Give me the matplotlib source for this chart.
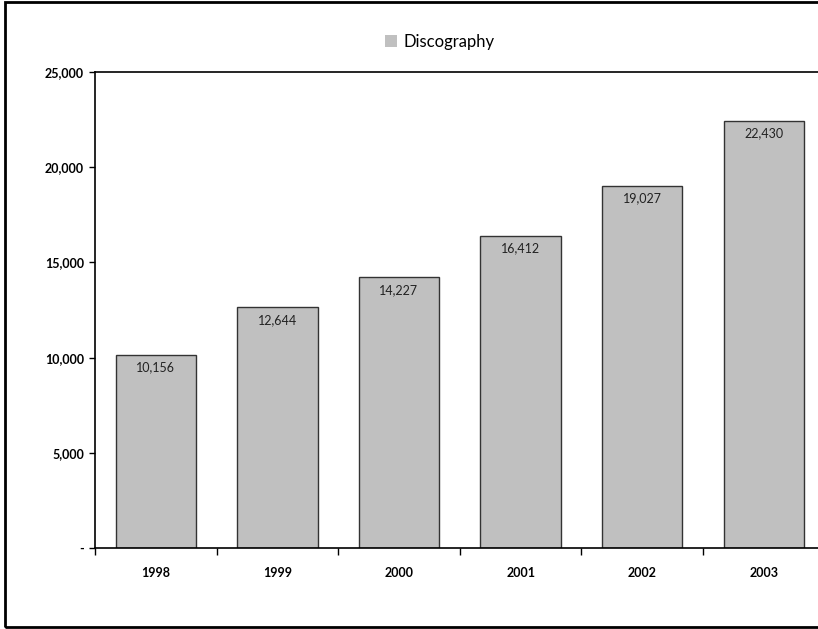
import numpy as np
import matplotlib.pyplot as plt
from matplotlib.patches import Rectangle, Patch

plt.rcParams['font.family'] = ['Lato', 'DejaVu Sans']

years = ["1998", "1999", "2000", "2001", "2002", "2003"]
discography = [10156, 12644, 14227, 16412, 19027, 22430]
ytick_vals = [0, 5000, 10000, 15000, 20000, 25000]
ytick_labels = ["-", "5,000", "10,000", "15,000", "20,000", "25,000"]

fig = plt.figure(figsize=(8.18, 6.29), dpi=100)
ax = fig.add_axes([95 / 818, 81 / 629, 6 * 121.6 / 818, 476 / 629])

x = np.arange(len(years))
ax.bar(x, discography, width=0.66, color="#c0c0c0",
       edgecolor="#333333", linewidth=1)

for xi, v in zip(x, discography):
    ax.text(xi, v - 350, f"{v:,}", ha="center", va="top", fontsize=9,
            color="#222222")

ax.set_xlim(-0.5, len(years) - 0.5)
ax.set_ylim(0, 25000)
ax.set_yticks(ytick_vals)
ax.set_yticklabels(ytick_labels, fontsize=9, fontweight="bold")

# category labels centred, tick marks on the boundaries
ax.set_xticks(x)
ax.set_xticklabels(years, fontsize=9, fontweight="bold")
ax.tick_params(axis="x", length=0, pad=14)
ax.set_xticks(np.arange(len(years) + 1) - 0.5, minor=True)
ax.tick_params(axis="x", which="minor", length=5, direction="out", width=1)
ax.tick_params(axis="y", length=4, width=1, pad=4)

for s in ["left", "top", "bottom"]:
    ax.spines[s].set_linewidth(1.2)
ax.spines["right"].set_visible(False)

handle = Patch(facecolor="#c0c0c0", edgecolor="none")
fig.legend(handles=[handle], labels=["Discography"], loc="center",
           bbox_to_anchor=(440 / 818, 1 - 42 / 629), frameon=False,
           fontsize=12, handlelength=0.7, handleheight=0.7,
           handletextpad=0.4)

# outer frame of the chart
fig.patches.append(Rectangle((5 / 818, 2 / 629), 1.0, 625 / 629,
                             transform=fig.transFigure, fill=False,
                             edgecolor="black", linewidth=2))

fig.savefig("out.png", dpi=100)
